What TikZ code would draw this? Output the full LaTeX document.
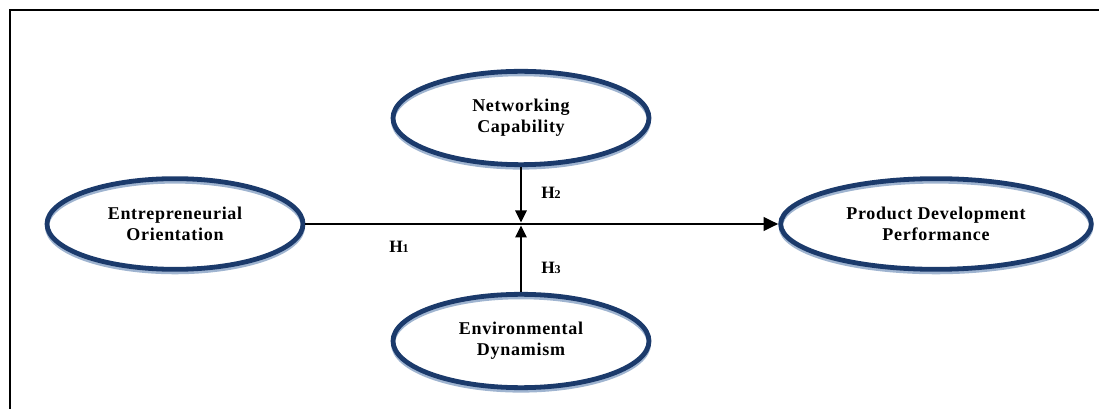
\documentclass[tikz,border=0pt]{standalone}
\usepackage{fontspec}
\setmainfont{Liberation Serif}
\usepackage{xcolor}
\usepackage{tikz}
\usetikzlibrary{arrows.meta, positioning, calc, shapes.geometric}

\definecolor{navy}{HTML}{1B3A6B}
\definecolor{shade}{HTML}{9FB4D0}

\begin{document}
\begin{tikzpicture}[x=0.75pt, y=-0.75pt,
  construct/.style={ellipse, draw=navy, line width=3.6pt, minimum width=192pt,
    minimum height=68pt, align=center,
    font=\fontsize{13.5}{15.5}\selectfont\bfseries\addfontfeatures{LetterSpace=4},
    preaction={draw=shade, line width=3pt, transform canvas={yshift=-2.2pt}}},
  hyp/.style={font=\fontsize{13}{15}\selectfont\bfseries},
  link/.style={line width=1.3pt, -{Triangle[length=9pt, width=8.5pt]}}]
  \useasboundingbox (0,0) rectangle (1099,409);
  % Rahmen
  \draw[line width=1.6pt] (10,409) -- (10,10) -- (1099,10);
  % Konstrukte
  \node[construct] (eo) at (175,224) {Entrepreneurial\\Orientation};
  \node[construct, minimum width=233pt] (pdp) at (936,224) {Product Development\\Performance};
  \node[construct, minimum height=70pt] (nc) at (521,118) {Networking\\Capability};
  \node[construct, minimum height=70pt] (ed) at (521,341) {Environmental\\Dynamism};
  % Haupteffekt
  \draw[line width=2.2pt, -{Triangle[length=11pt, width=10pt]}] (eo) -- (pdp)
    coordinate[pos=0.452] (mid);
  % Moderatoren
  \coordinate (top) at ($(mid)+(0,-1.5)$);
  \coordinate (bot) at ($(mid)+(0,1.5)$);
  \draw[link] (nc.south) -- (nc.south |- top);
  \draw[link] (ed.north) -- (ed.north |- bot);
  % Hypothesen
  \node[hyp] (h1) at (399,247) {H{\fontsize{9}{10}\selectfont 1}};
  \node[hyp] (h2) at (551,193) {H{\fontsize{9}{10}\selectfont 2}};
  \node[hyp] (h3) at (551,268) {H{\fontsize{9}{10}\selectfont 3}};
\end{tikzpicture}
\end{document}
